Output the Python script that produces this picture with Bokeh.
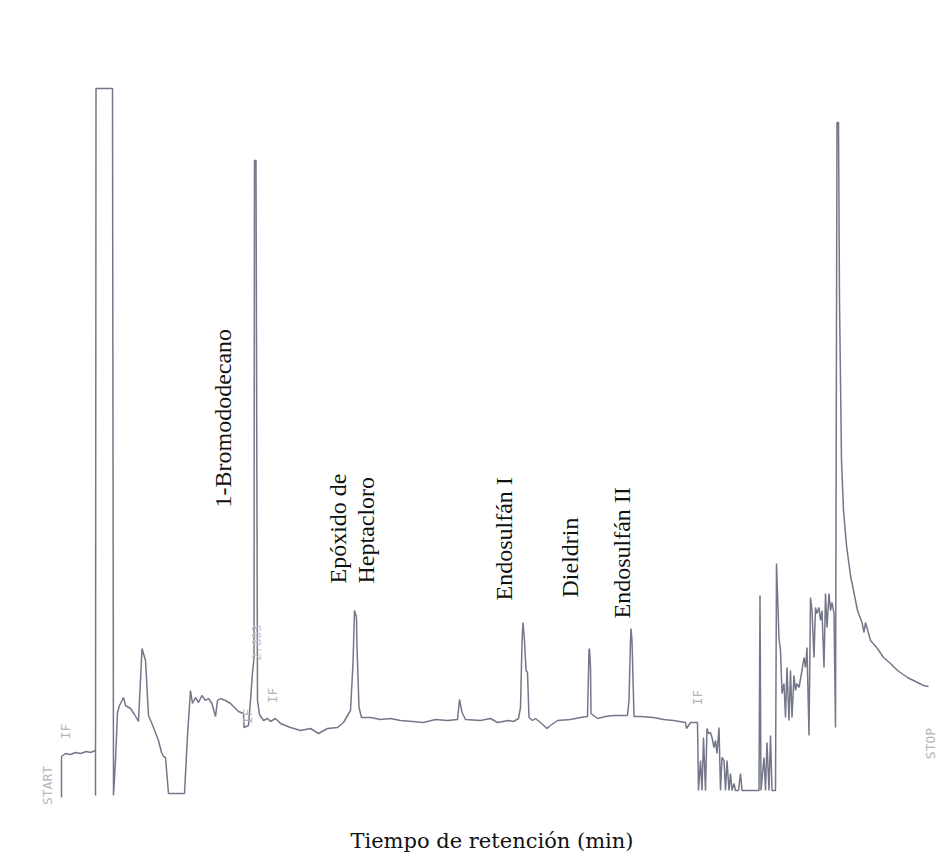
import math
from bokeh.plotting import figure
from bokeh.models import Range1d, Label
from bokeh.core.properties import value
from bokeh.embed import file_html
from bokeh.resources import INLINE

# Chromatogram trace: retention time (s) and detector signal (a.u.)
tiempo = [0, 0, 8, 18, 28, 38, 50, 58, 68, 68, 69, 102, 104, 108, 112, 116, 124, 128, 138, 146,
          154, 161, 168, 174, 184, 194, 200, 204, 208, 214, 246, 252, 258, 262, 268, 274, 281, 288,
          294, 301, 308, 312, 318, 328, 338, 348, 354, 364, 365, 374, 378, 382, 385, 386, 389, 392,
          396, 404, 412, 418, 428, 438, 458, 478, 498, 514, 532, 552, 564, 578, 583, 586, 590, 591,
          595, 600, 618, 638, 658, 678, 702, 724, 748, 772, 792, 796, 801, 808, 838, 858, 872, 894,
          904, 914, 918, 921, 923, 926, 929, 932, 935, 942, 948, 958, 971, 978, 992, 1018, 1038,
          1052, 1055, 1056, 1058, 1059, 1072, 1088, 1104, 1132, 1135, 1138, 1139, 1141, 1145, 1158,
          1184, 1204, 1224, 1248, 1250, 1258, 1272, 1274, 1278, 1281, 1284, 1288, 1291, 1294, 1298,
          1301, 1305, 1308, 1311, 1315, 1318, 1321, 1325, 1328, 1331, 1335, 1338, 1341, 1345, 1348,
          1354, 1358, 1361, 1395, 1397, 1399, 1405, 1408, 1411, 1415, 1418, 1421, 1428, 1430, 1435,
          1438, 1441, 1445, 1448, 1451, 1455, 1458, 1461, 1465, 1468, 1471, 1475, 1481, 1485, 1488,
          1491, 1495, 1498, 1501, 1505, 1508, 1511, 1515, 1518, 1521, 1525, 1528, 1531, 1535, 1538,
          1541, 1545, 1548, 1551, 1554, 1556, 1560, 1564, 1570, 1578, 1588, 1592, 1601, 1605, 1608,
          1618, 1632, 1644, 1658, 1672, 1692, 1712, 1724, 1734]
senal = [0, 41, 44, 43, 45, 44, 46, 45, 47, 2, 709, 709, 2, 37, 85, 92, 100, 92, 89, 83,
         76, 149, 137, 82, 70, 57, 45, 41, 40, 4, 4, 62, 107, 94, 100, 95, 102, 97,
         99, 94, 81, 97, 99, 97, 94, 89, 86, 84, 70, 72, 97, 125, 139, 637, 637, 97,
         83, 77, 79, 76, 79, 74, 70, 67, 69, 64, 69, 70, 75, 87, 134, 187, 180, 150,
         90, 80, 80, 78, 79, 77, 76, 75, 78, 77, 78, 98, 85, 78, 77, 79, 75, 77,
         76, 79, 90, 155, 175, 157, 127, 125, 80, 77, 79, 75, 69, 72, 77, 78, 80,
         81, 147, 149, 130, 84, 79, 81, 82, 82, 97, 157, 169, 157, 81, 81,
         80, 78, 77, 75, 69, 75, 75, 7, 37, 7, 60, 7, 69, 64, 65,
         60, 50, 57, 44, 70, 7, 40, 37, 7, 37, 7, 24, 7, 14, 7,
         7, 24, 7, 7, 202, 7, 40, 7, 55, 7, 62, 7, 7, 234, 159,
         147, 104, 114, 80, 130, 77, 127, 80, 122, 107, 114, 110, 127, 140, 130,
         150, 62, 200, 187, 140, 190, 184, 190, 177, 187, 130, 204, 170, 204, 187,
         195, 184, 70, 675, 675, 497, 337, 287, 252, 222, 197, 187, 175, 165, 175,
         157, 149, 140, 134, 127, 120, 115, 112, 111]

# Identified compounds (annotation texts)
compuestos = ["1-Bromododecano", "Epóxido de", "Heptacloro", "Endosulfán I", "Dieldrin", "Endosulfán II"]
# Instrument event marks printed on the chart
marcas = ["START", "IF", "IF", "IF", "IF", "STOP"]
tiempo_pico = "2.803"
eje_x = "Tiempo de retención (min)"

# ---- layout (label anchor positions in data units) ----
comp_x = [322, 552, 608, 884, 1016, 1120]
comp_y = [290, 214, 214, 197, 200, 179]
marca_x = [-29, 8, 372, 422, 1272, 1738]
marca_y = [12, 66, 81, 102, 100, 54]

p = figure(width=939, height=859, x_range=Range1d(-122, 1756), y_range=Range1d(-62, 797),
           toolbar_location=None, output_backend="svg", min_border=0,
           x_axis_location=None, y_axis_location=None)
p.outline_line_color = None
p.grid.visible = False
p.background_fill_color = "white"
p.border_fill_color = "white"

p.line(tiempo, senal, line_color="#74778a", line_width=1.5)

p.text(x=comp_x, y=comp_y, text=compuestos, angle=math.pi / 2,
       text_font=value("Liberation Serif"), text_font_size="24px", text_color="#111111",
       text_align="left", text_baseline="middle")

p.text(x=marca_x, y=marca_y, text=marcas, angle=math.pi / 2,
       text_font=value("DejaVu Sans Mono"), text_font_size="13px", text_color="#b4b4b4",
       text_align="center", text_baseline="middle")

p.text(x=[389], y=[155], text=[tiempo_pico], angle=math.pi / 2,
       text_font=value("DejaVu Sans Mono"), text_font_size="12px", text_color="#c4c4cc",
       text_align="center", text_baseline="middle")

p.add_layout(Label(x=861, y=-43, text=eje_x, text_align="center", text_baseline="alphabetic",
                   text_font="DejaVu Serif", text_font_size="21px", text_color="#111111"))

open("out.html", "w").write(file_html(p, INLINE))
